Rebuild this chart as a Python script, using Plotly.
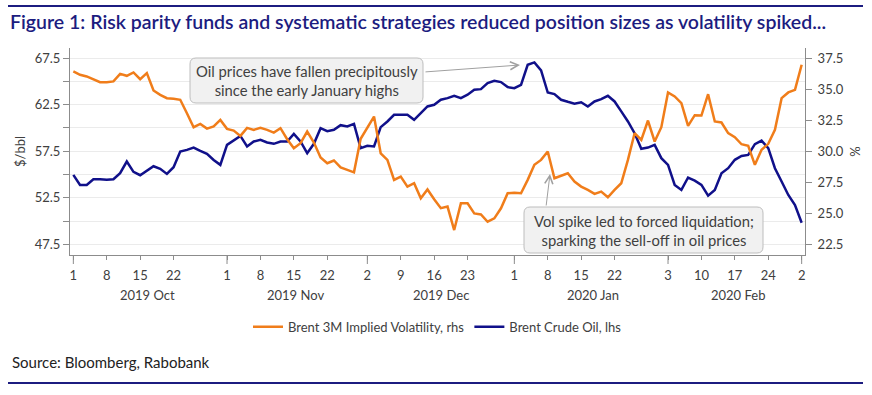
import pandas as pd
import plotly.graph_objects as go

# ---------------- data ----------------
dates = pd.bdate_range("2019-10-01", "2020-03-02").strftime("%Y-%m-%d").tolist()

brent_vol = [  # Brent 3M implied volatility, % (rhs)
    36.42, 36.15, 36.02, 35.80, 35.56, 35.56, 35.62, 36.23, 36.07, 36.34,
    35.80, 36.29, 34.89, 34.54, 34.27, 34.22, 34.14, 33.06, 31.93, 32.20,
    31.82, 31.99, 32.52, 31.80, 31.66, 31.23, 31.88, 31.72, 31.88, 31.72,
    31.50, 31.85, 30.96, 30.24, 30.64, 31.58, 30.70, 29.49, 29.03, 29.25,
    28.70, 28.50, 28.30, 31.00, 31.85, 32.79, 29.83, 29.30, 27.69, 27.96,
    27.15, 27.42, 26.21, 26.92, 26.13, 25.41, 25.54, 23.65, 25.80, 25.80,
    24.99, 24.91, 24.32, 24.59, 25.40, 26.61, 26.66, 26.61, 27.69, 28.90,
    29.30, 29.98, 27.82, 28.00, 28.22, 27.55, 27.15, 26.88, 26.56, 26.75,
    26.29, 26.88, 27.42, 29.30, 31.45, 30.91, 32.47, 30.78, 31.93, 34.73,
    34.41, 33.87, 32.04, 32.90, 32.87, 34.59, 32.39, 32.31, 31.45, 31.13,
    30.56, 30.43, 28.90, 30.11, 30.59, 31.72, 34.27, 34.73, 34.94, 36.96,
]

brent_oil = [  # Brent crude oil, $/bbl (lhs)
    54.95, 53.87, 53.87, 54.49, 54.49, 54.42, 54.49, 55.13, 56.39, 55.28,
    54.92, 55.42, 55.88, 55.60, 55.06, 55.78, 57.46, 57.64, 57.89, 57.53,
    57.21, 56.56, 56.03, 58.18, 58.64, 59.14, 58.00, 58.54, 58.72, 58.43,
    58.29, 58.54, 58.54, 59.36, 58.54, 57.28, 58.29, 59.97, 59.65, 59.79,
    60.29, 60.15, 60.43, 57.82, 58.07, 58.00, 60.08, 60.69, 61.41, 61.41,
    61.41, 60.87, 61.58, 62.30, 62.48, 63.02, 63.20, 63.45, 63.20, 63.56,
    64.09, 64.16, 64.81, 65.06, 64.92, 64.38, 64.27, 64.63, 66.78, 67.03,
    66.17, 63.80, 63.63, 63.02, 62.80, 62.60, 62.75, 62.30, 62.84, 63.09,
    63.45, 62.84, 61.77, 60.69, 59.43, 57.75, 57.89, 58.18, 56.75, 56.03,
    53.88, 53.34, 54.67, 54.34, 53.88, 52.73, 53.34, 55.13, 55.67, 56.57,
    56.99, 57.10, 58.25, 58.64, 57.82, 55.67, 54.24, 52.80, 51.72, 49.82,
]

tick_dates = ["2019-10-01", "2019-10-08", "2019-10-15", "2019-10-22",
              "2019-11-01", "2019-11-08", "2019-11-15", "2019-11-22",
              "2019-12-02", "2019-12-09", "2019-12-16", "2019-12-23",
              "2020-01-01", "2020-01-08", "2020-01-15", "2020-01-22",
              "2020-02-03", "2020-02-10", "2020-02-17", "2020-02-24",
              "2020-03-02"]
tick_text = ["1", "8", "15", "22", "1", "8", "15", "22", "2", "9", "16", "23",
             "1", "8", "15", "22", "3", "10", "17", "24", "2"]
month_starts = ["2019-10-01", "2019-11-01", "2019-12-02", "2020-01-01",
                "2020-02-03", "2020-03-02"]
month_labels = ["2019 Oct", "2019 Nov", "2019 Dec", "2020 Jan", "2020 Feb"]
month_pos = [11.1, 33.3, 55.0, 77.7, 99.4]

lhs_ticks = [47.5, 50, 52.5, 55, 57.5, 60, 62.5, 65, 67.5]
lhs_text = ["47.5", "", "52.5", "", "57.5", "", "62.5", "", "67.5"]
rhs_ticks = [22.5, 25, 27.5, 30, 32.5, 35, 37.5]
rhs_text = ["22.5", "25.0", "27.5", "30.0", "32.5", "35.0", "37.5"]

assert len(dates) == len(brent_vol) == len(brent_oil)

# ---------------- layout helpers ----------------
W, H = 872, 395
L, R, T, B = 70, 805, 48, 255
FONT = "Lato, 'Open Sans', sans-serif"
NAVY = "#1c1c80"
ORANGE = "#f07d1a"
BLUE = "#10108a"
GREY_TXT = "#404040"
AXIS = "#8c8c8c"


def px(x):
    return (x - L) / (R - L)


def py(y):
    return (B - y) / (B - T)


def rounded(x0, y0, x1, y1, r=6):
    return (f"M {px(x0 + r)},{py(y0)} L {px(x1 - r)},{py(y0)} "
            f"Q {px(x1)},{py(y0)} {px(x1)},{py(y0 + r)} L {px(x1)},{py(y1 - r)} "
            f"Q {px(x1)},{py(y1)} {px(x1 - r)},{py(y1)} L {px(x0 + r)},{py(y1)} "
            f"Q {px(x0)},{py(y1)} {px(x0)},{py(y1 - r)} L {px(x0)},{py(y0 + r)} "
            f"Q {px(x0)},{py(y0)} {px(x0 + r)},{py(y0)} Z")


fig = go.Figure()
fig.add_trace(go.Scatter(x=dates, y=brent_vol, name="Brent 3M Implied Volatility, rhs",
                         mode="lines", line=dict(color=ORANGE, width=2.5), yaxis="y2"))
fig.add_trace(go.Scatter(x=dates, y=brent_oil, name="Brent Crude Oil, lhs",
                         mode="lines", line=dict(color=BLUE, width=2.5), yaxis="y"))

shapes = [
    dict(type="rect", xref="paper", yref="paper", x0=px(8), x1=px(863), y0=py(5), y1=py(7),
         fillcolor=NAVY, line=dict(width=0), layer="above"),
    dict(type="rect", xref="paper", yref="paper", x0=px(8), x1=px(863), y0=py(382), y1=py(384),
         fillcolor=NAVY, line=dict(width=0), layer="above"),
    dict(type="path", xref="paper", yref="paper", path=rounded(190, 58, 423, 103),
         fillcolor="#f1f1f1", line=dict(color="#bdbdbd", width=1), layer="above"),
    dict(type="path", xref="paper", yref="paper", path=rounded(524, 207, 763, 253),
         fillcolor="#f1f1f1", line=dict(color="#bdbdbd", width=1), layer="above"),
]
# longer tick marks at the start of each month
for d in month_starts:
    shapes.append(dict(type="line", xref="x", yref="paper", x0=d, x1=d, y0=0, y1=py(264),
                       line=dict(color=AXIS, width=1)))

# top rule also as a stretched layout image (navy bar)
rule_svg = ("data:image/svg+xml;utf8,<svg xmlns='http://www.w3.org/2000/svg' "
            "width='100' height='2' viewBox='0 0 100 2' preserveAspectRatio='none'>"
            "<rect width='100' height='2' fill='%231c1c80'/></svg>")
images = [dict(source=rule_svg, xref="paper", yref="paper", x=px(8), y=py(5),
               sizex=855 / (R - L), sizey=2 / (B - T), xanchor="left", yanchor="top",
               sizing="stretch", layer="above")]

annotations = [
    dict(xref="paper", yref="paper", x=px(306.5), y=py(80.5), showarrow=False,
         xanchor="center", yanchor="middle",
         text="Oil prices have fallen precipitously<br>since the early January highs",
         font=dict(family=FONT, size=14.8, color=GREY_TXT), align="center"),
    dict(xref="paper", yref="paper", x=px(643.5), y=py(230), showarrow=False,
         xanchor="center", yanchor="middle",
         text="Vol spike led to forced liquidation;<br>sparking the sell-off in oil prices",
         font=dict(family=FONT, size=14.8, color=GREY_TXT), align="center"),
    dict(xref="paper", yref="paper", x=px(520), y=py(65), ax=424 - 520, ay=72 - 65,
         text="", showarrow=True, arrowhead=5, arrowsize=1.6, arrowwidth=1,
         arrowcolor="#a0a0a0", standoff=0, startstandoff=0),
    dict(xref="paper", yref="paper", x=px(550), y=py(174), ax=546 - 550, ay=207 - 174,
         text="", showarrow=True, arrowhead=5, arrowsize=1.6, arrowwidth=1,
         arrowcolor="#a0a0a0", standoff=0, startstandoff=0),
    dict(xref="paper", yref="paper", x=px(10), y=py(362), xanchor="left", yanchor="middle",
         showarrow=False, text="Source: Bloomberg, Rabobank",
         font=dict(family=FONT, size=15, color="#222222")),
]
for lab, pos in zip(month_labels, month_pos):
    annotations.append(dict(xref="x", yref="paper", x=pos, y=py(295), showarrow=False,
                            xanchor="center", yanchor="middle",
                            text=lab, font=dict(family=FONT, size=13, color=GREY_TXT)))

fig.update_layout(
    width=W, height=H,
    margin=dict(l=L, r=W - R, t=T, b=H - B, pad=0, autoexpand=False),
    paper_bgcolor="white", plot_bgcolor="white",
    font=dict(family=FONT, size=13, color=GREY_TXT),
    title=dict(text="Figure 1: Risk parity funds and systematic strategies reduced position sizes as volatility spiked...",
               x=10 / W, xref="container", xanchor="left", y=1 - 22 / H, yanchor="middle",
               font=dict(family=FONT, size=19.5, color=NAVY, weight=600)),
    xaxis=dict(type="category", range=[-0.5, len(dates) - 0.5], tickmode="array",
               tickvals=tick_dates, ticktext=tick_text, tickangle=0, automargin=False,
               ticks="outside", ticklen=4, tickcolor=AXIS, showline=True, linecolor=AXIS,
               ticklabelstandoff=4,
               showgrid=False, zeroline=False, tickfont=dict(size=13, color=GREY_TXT)),
    yaxis=dict(range=[46.35, 68.58], tickmode="array", tickvals=lhs_ticks, ticktext=lhs_text,
               ticks="outside", ticklen=6, tickcolor=AXIS, showline=True, linecolor=AXIS,
               showgrid=True, gridcolor="#ebebeb", zeroline=False, automargin=False,
               title=dict(text="$/bbl", font=dict(size=13, color=GREY_TXT), standoff=6),
               tickfont=dict(size=13, color=GREY_TXT)),
    yaxis2=dict(range=[21.64, 38.31], overlaying="y", side="right", tickmode="array",
                tickvals=rhs_ticks, ticktext=rhs_text, ticks="outside", ticklen=6,
                tickcolor=AXIS, showline=True, linecolor=AXIS, showgrid=False, zeroline=False,
                automargin=False, ticklabelstandoff=3,
                title=dict(text="%", font=dict(size=13, color=GREY_TXT), standoff=8),
                tickfont=dict(size=13, color=GREY_TXT)),
    legend=dict(orientation="h", x=0.5, xanchor="center", y=py(326.7), yanchor="middle",
                font=dict(size=13, color=GREY_TXT), bgcolor="rgba(0,0,0,0)"),
    shapes=shapes,
    images=images,
    annotations=annotations,
    showlegend=True,
)

fig.write_html("out.html", config={"displayModeBar": False},
               post_script="document.body.style.margin='0';document.body.style.overflow='hidden';")
